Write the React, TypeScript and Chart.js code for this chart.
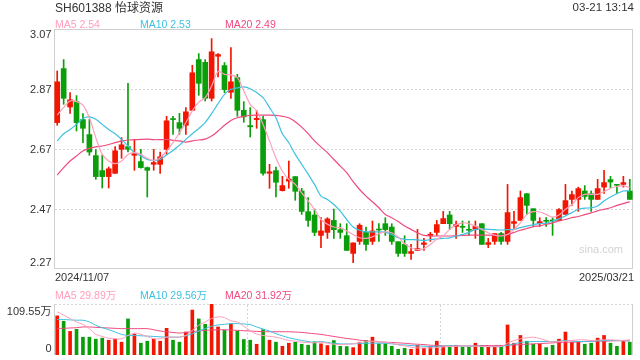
import React, { useEffect, useRef } from "react";
import { Chart, registerables } from "chart.js";

Chart.register(...registerables);

const title = "SH601388 怡球资源";
const timeStamp = "03-21 13:14";
const watermark = "sina.com";

const dates = [
  "2024/11/07","2024/11/08","2024/11/11","2024/11/12","2024/11/13","2024/11/14","2024/11/15","2024/11/18","2024/11/19","2024/11/20",
  "2024/11/21","2024/11/22","2024/11/25","2024/11/26","2024/11/27","2024/11/28","2024/11/29","2024/12/02","2024/12/03","2024/12/04",
  "2024/12/05","2024/12/06","2024/12/09","2024/12/10","2024/12/11","2024/12/12","2024/12/13","2024/12/16","2024/12/17","2024/12/18",
  "2024/12/19","2024/12/20","2024/12/23","2024/12/24","2024/12/25","2024/12/26","2024/12/27","2024/12/30","2024/12/31","2025/01/02",
  "2025/01/03","2025/01/06","2025/01/07","2025/01/08","2025/01/09","2025/01/10","2025/01/13","2025/01/14","2025/01/15","2025/01/16",
  "2025/01/17","2025/01/20","2025/01/21","2025/01/22","2025/01/23","2025/01/24","2025/01/27","2025/02/05","2025/02/06","2025/02/07",
  "2025/02/10","2025/02/11","2025/02/12","2025/02/13","2025/02/14","2025/02/17","2025/02/18","2025/02/19","2025/02/20","2025/02/21",
  "2025/02/24","2025/02/25","2025/02/26","2025/02/27","2025/02/28","2025/03/03","2025/03/04","2025/03/05","2025/03/06","2025/03/07",
  "2025/03/10","2025/03/11","2025/03/12","2025/03/13","2025/03/14","2025/03/17","2025/03/18","2025/03/19","2025/03/20","2025/03/21",
];

const openP = [
  2.758,2.938,2.810,2.828,2.768,2.718,2.648,2.598,2.578,2.589,
  2.669,2.678,2.649,2.628,2.608,2.619,2.619,2.669,2.771,2.758,
  2.749,2.799,2.968,2.959,2.839,2.979,2.948,2.859,2.908,2.799,
  2.748,2.768,2.768,2.589,2.598,2.531,2.563,2.578,2.530,2.461,
  2.450,2.382,2.392,2.432,2.401,2.381,2.322,2.362,2.392,2.362,
  2.402,2.421,2.410,2.361,2.352,2.322,2.332,2.352,2.382,2.392,
  2.421,2.450,2.412,2.411,2.401,2.402,2.421,2.352,2.362,2.388,
  2.362,2.422,2.432,2.521,2.471,2.422,2.432,2.432,2.432,2.452,
  2.502,2.502,2.530,2.521,2.502,2.543,2.568,2.552,2.552,2.530,
];
const highP = [
  2.930,2.968,2.858,2.848,2.788,2.769,2.668,2.649,2.610,2.678,
  2.708,2.889,2.699,2.669,2.610,2.669,2.660,2.779,2.779,2.789,
  2.808,2.949,2.988,2.968,3.038,2.988,2.958,3.008,2.919,2.828,
  2.808,2.799,2.779,2.619,2.610,2.579,2.630,2.578,2.539,2.508,
  2.470,2.441,2.441,2.470,2.421,2.421,2.357,2.421,2.410,2.430,
  2.421,2.441,2.421,2.361,2.381,2.352,2.402,2.372,2.392,2.432,
  2.462,2.462,2.430,2.430,2.430,2.430,2.421,2.372,2.388,2.392,
  2.552,2.462,2.530,2.521,2.471,2.441,2.441,2.441,2.471,2.552,
  2.530,2.543,2.548,2.530,2.569,2.599,2.579,2.552,2.579,2.569,
];
const lowP = [
  2.749,2.819,2.789,2.730,2.691,2.649,2.569,2.540,2.540,2.589,
  2.639,2.660,2.599,2.606,2.510,2.599,2.589,2.652,2.719,2.719,
  2.719,2.799,2.849,2.830,2.830,2.910,2.858,2.839,2.779,2.759,
  2.710,2.739,2.583,2.539,2.510,2.530,2.539,2.499,2.452,2.412,
  2.381,2.341,2.372,2.372,2.372,2.332,2.291,2.352,2.332,2.352,
  2.362,2.382,2.352,2.312,2.312,2.302,2.332,2.332,2.362,2.382,
  2.421,2.402,2.372,2.392,2.382,2.372,2.352,2.341,2.352,2.352,
  2.352,2.402,2.432,2.452,2.412,2.412,2.412,2.382,2.432,2.452,
  2.482,2.462,2.502,2.462,2.502,2.522,2.541,2.523,2.543,2.502,
];
const closeP = [
  2.894,2.839,2.834,2.758,2.739,2.660,2.578,2.578,2.604,2.664,
  2.684,2.669,2.655,2.608,2.599,2.625,2.644,2.764,2.768,2.739,
  2.794,2.924,2.889,2.839,2.994,2.985,2.868,2.894,2.799,2.777,
  2.744,2.772,2.589,2.594,2.559,2.548,2.570,2.529,2.462,2.432,
  2.392,2.397,2.437,2.401,2.392,2.332,2.357,2.416,2.352,2.397,
  2.400,2.401,2.362,2.322,2.322,2.328,2.338,2.357,2.386,2.418,
  2.438,2.421,2.418,2.409,2.399,2.412,2.352,2.358,2.388,2.362,
  2.458,2.428,2.508,2.482,2.432,2.428,2.429,2.430,2.468,2.498,
  2.518,2.538,2.512,2.502,2.538,2.558,2.560,2.549,2.558,2.502,
];

const ma5 = [
  2.783,2.808,2.830,2.828,2.816,2.774,2.708,2.652,2.630,2.621,
  2.630,2.652,2.658,2.652,2.639,2.632,2.641,2.663,2.691,2.724,
  2.758,2.797,2.826,2.841,2.880,2.928,2.919,2.917,2.908,2.863,
  2.819,2.797,2.752,2.697,2.640,2.596,2.569,2.552,2.524,2.497,
  2.469,2.435,2.419,2.410,2.408,2.397,2.385,2.374,2.372,2.377,
  2.388,2.394,2.391,2.377,2.354,2.341,2.335,2.338,2.352,2.369,
  2.380,2.402,2.417,2.424,2.421,2.413,2.402,2.391,2.383,2.380,
  2.385,2.402,2.424,2.452,2.461,2.460,2.452,2.443,2.450,2.469,
  2.485,2.508,2.519,2.519,2.519,2.528,2.539,2.545,2.548,2.541,
];
const ma10 = [
  2.697,2.721,2.735,2.752,2.772,2.777,2.769,2.752,2.735,2.721,
  2.702,2.680,2.658,2.647,2.635,2.632,2.635,2.650,2.665,2.683,
  2.702,2.721,2.738,2.758,2.788,2.821,2.852,2.869,2.874,2.877,
  2.871,2.858,2.841,2.808,2.774,2.721,2.691,2.652,2.619,2.586,
  2.552,2.513,2.502,2.485,2.463,2.435,2.410,2.399,2.394,2.394,
  2.394,2.393,2.385,2.374,2.369,2.368,2.367,2.365,2.368,2.370,
  2.372,2.374,2.380,2.385,2.392,2.402,2.404,2.402,2.401,2.400,
  2.401,2.402,2.408,2.413,2.418,2.421,2.423,2.430,2.437,2.447,
  2.458,2.469,2.473,2.474,2.480,2.497,2.510,2.521,2.530,2.530,
];
const ma20 = [
  2.583,2.608,2.630,2.647,2.663,2.672,2.677,2.680,2.685,2.691,
  2.697,2.700,2.701,2.702,2.703,2.701,2.701,2.702,2.699,2.697,
  2.693,2.697,2.700,2.703,2.713,2.730,2.749,2.765,2.774,2.779,
  2.782,2.783,2.783,2.783,2.782,2.779,2.774,2.761,2.743,2.721,
  2.697,2.677,2.658,2.635,2.613,2.591,2.561,2.535,2.513,2.494,
  2.474,2.452,2.441,2.428,2.413,2.402,2.391,2.382,2.380,2.380,
  2.380,2.380,2.381,2.382,2.383,2.383,2.383,2.383,2.382,2.381,
  2.385,2.392,2.399,2.405,2.411,2.414,2.419,2.424,2.430,2.435,
  2.441,2.445,2.451,2.457,2.464,2.469,2.474,2.482,2.488,2.494,
];

// volume in 万 shares
const volume = [
  84.1,72.5,50.7,55.1,38.3,38.3,34.0,36.2,31.8,34.0,
  27.5,77.5,44.9,25.3,29.6,34.0,29.6,57.3,31.8,27.5,
  49.3,96.5,77.5,66.0,109.55,60.2,52.9,66.7,51.4,33.3,
  31.8,23.1,54.4,31.8,27.5,18.7,25.3,27.5,23.1,20.9,
  28.3,24.0,20.3,31.1,18.7,18.1,15.9,27.5,31.1,38.3,
  24.0,24.0,18.7,12.2,14.4,12.2,20.9,14.4,18.1,29.6,
  18.7,16.6,20.3,16.6,16.6,25.3,20.3,16.6,16.6,18.1,
  64.5,25.3,42.0,29.6,23.1,23.1,15.9,20.9,34.0,49.3,
  27.5,27.5,23.1,25.3,36.2,42.0,25.3,18.7,31.1,27.5,
];
const volMa5 = [
  92.9,85.6,78.3,71.0,65.9,56.6,44.3,39.9,36.2,34.8,
  34.8,42.0,47.1,44.3,39.9,34.8,34.8,38.4,38.4,38.4,
  42.0,52.9,63.8,71.0,78.3,82.0,80.5,73.2,71.0,62.0,
  52.0,45.0,42.0,39.9,38.4,34.8,31.1,29.7,27.5,26.8,
  26.1,27.5,25.3,23.1,22.4,23.1,23.9,26.8,28.2,29.7,
  29.0,27.5,25.3,21.7,19.6,16.7,15.2,15.2,15.2,15.9,
  17.4,18.1,18.9,19.6,19.6,18.9,18.1,18.1,18.1,18.1,
  25.3,31.1,34.8,37.0,38.4,35.5,31.1,28.2,29.0,29.7,
  31.1,32.6,32.6,31.1,31.9,32.6,32.6,31.9,31.1,29.89,
];
const volMa10 = [
  76.2,76.2,75.4,74.7,74.7,71.0,63.8,58.7,54.3,49.3,
  44.3,42.0,42.0,41.3,40.6,39.9,39.1,38.4,38.4,38.4,
  41.3,45.7,51.5,56.6,61.7,64.6,65.9,67.4,67.4,66.7,
  65.2,60.2,55.8,51.5,45.7,41.3,37.0,34.0,31.1,29.0,
  27.5,29.0,26.8,25.3,23.9,23.9,23.9,24.6,25.3,25.3,
  25.3,25.3,23.9,22.4,21.7,20.3,19.6,18.9,18.1,18.9,
  18.9,19.6,19.6,19.6,19.6,18.9,18.9,18.1,18.1,18.1,
  21.0,23.9,26.8,28.2,29.0,29.0,29.0,29.0,29.7,31.1,
  30.4,29.0,29.0,29.7,30.4,31.1,31.1,31.1,30.4,29.56,
];
const volMa20 = [
  56.6,57.3,58.0,58.7,60.2,60.2,59.4,58.7,58.0,57.3,
  56.6,56.6,56.6,56.6,56.6,54.3,51.5,50.0,48.5,47.1,
  48.5,50.0,51.5,52.9,53.6,54.3,54.3,53.6,52.9,52.2,
  51.5,50.7,50.0,50.0,50.0,50.0,50.0,49.3,48.5,47.1,
  45.7,44.3,42.0,39.9,37.7,35.5,34.0,31.9,30.4,29.0,
  28.2,27.5,26.8,26.1,25.3,23.9,23.1,22.4,21.0,20.3,
  19.6,19.6,19.6,19.6,19.6,19.6,20.3,20.3,20.3,20.3,
  21.0,21.7,22.4,23.1,23.9,24.6,25.3,26.1,26.8,27.5,
  27.5,28.2,29.0,29.7,29.7,29.7,30.2,30.6,31.3,31.92,
];

const priceTicks = [2.27, 2.47, 2.67, 2.87, 3.07];
const priceTickLabels = ["2.27", "2.47", "2.67", "2.87", "3.07"];
const volTicks = [0, 109.55];
const volTickLabels = ["0", "109.55万"];
const maNames = ["MA5", "MA10", "MA20"];

const UP = "#f21500";
const DOWN = "#0a9e0a";
const MA_COLORS = ["#ff9fba", "#3ec1e0", "#ef4a7e"];
const FONT = '"Liberation Sans", Arial, "Noto Sans CJK SC", sans-serif';

const candleColors = closeP.map((c, i) => (c >= openP[i] ? UP : DOWN));

function txt(
  ctx: CanvasRenderingContext2D,
  s: string,
  x: number,
  capMid: number,
  size: number,
  color: string,
  align: CanvasTextAlign = "left"
) {
  ctx.save();
  ctx.font = `${size}px ${FONT}`;
  ctx.fillStyle = color;
  ctx.textAlign = align;
  ctx.textBaseline = "alphabetic";
  ctx.fillText(s, x, capMid + size * 0.358);
  ctx.restore();
}

function dotted(ctx: CanvasRenderingContext2D, x1: number, y1: number, x2: number, y2: number) {
  ctx.save();
  ctx.strokeStyle = "#d6d6d6";
  ctx.lineWidth = 1;
  ctx.setLineDash([2, 2]);
  ctx.beginPath();
  ctx.moveTo(x1, y1);
  ctx.lineTo(x2, y2);
  ctx.stroke();
  ctx.restore();
}

const priceFrame = {
  id: "priceFrame",
  beforeDatasetsDraw(chart: any) {
    const { ctx, chartArea: a, scales } = chart;
    const y = scales.y;
    priceTicks.forEach((t, i) => {
      if (i === 0 || i === priceTicks.length - 1) return;
      const py = Math.round(y.getPixelForValue(t)) + 0.5;
      dotted(ctx, a.left + 1, py, a.right - 1, py);
    });
    ctx.save();
    ctx.strokeStyle = "#cfcfcf";
    ctx.lineWidth = 1;
    ctx.strokeRect(Math.round(a.left) + 0.5, Math.round(a.top) + 0.5, Math.round(a.right - a.left) - 1, Math.round(a.bottom - a.top) - 1);
    ctx.restore();
    txt(ctx, watermark, 623, 249.5, 11, "#d3d3d3", "right");
  },
  afterDraw(chart: any) {
    const { ctx, chartArea: a, scales } = chart;
    const y = scales.y;
    priceTicks.forEach((t, i) => {
      let py = y.getPixelForValue(t);
      if (i === priceTicks.length - 1) py += 5.3;
      else if (i === 0) py -= 6.8;
      txt(ctx, priceTickLabels[i], 51.5, py, 11, "#333", "right");
    });
    txt(ctx, dates[0], a.left + 1, a.bottom + 8.5, 11, "#333", "left");
    txt(ctx, dates[dates.length - 1], a.right + 1, a.bottom + 8.5, 11, "#333", "right");
    txt(ctx, title, 55, 7.8, 12, "#333", "left");
    txt(ctx, timeStamp, 634, 6.8, 11.5, "#333", "right");
    const vals = [ma5, ma10, ma20];
    const xs = [55, 140, 225];
    maNames.forEach((n, i) => {
      const v = vals[i][vals[i].length - 1].toFixed(2);
      txt(ctx, `${n} ${v}`, xs[i], 24, 10.5, MA_COLORS[i], "left");
    });
  },
};

const volFrame = {
  id: "volFrame",
  beforeDatasetsDraw(chart: any) {
    const { ctx, chartArea: a } = chart;
    const top = Math.round(a.top) + 0.5;
    dotted(ctx, a.left + 1, top, a.right, top);
    const w = a.right - a.left;
    [1, 2].forEach((k) => {
      const x = Math.round(a.left + (w * k) / 3) + 0.5;
      dotted(ctx, x, a.top + 1, x, a.bottom);
    });
    ctx.save();
    ctx.strokeStyle = "#cfcfcf";
    ctx.lineWidth = 1;
    ctx.beginPath();
    ctx.moveTo(Math.round(a.left) + 0.5, a.top);
    ctx.lineTo(Math.round(a.left) + 0.5, a.bottom);
    ctx.moveTo(Math.round(a.right) - 0.5, a.top);
    ctx.lineTo(Math.round(a.right) - 0.5, a.bottom);
    ctx.stroke();
    ctx.restore();
  },
  afterDraw(chart: any) {
    const { ctx, scales } = chart;
    const y = scales.y;
    volTicks.forEach((t, i) => {
      let py = y.getPixelForValue(t);
      if (i === 0) py -= 6.7;
      else py += 7;
      txt(ctx, volTickLabels[i], 51.5, py, 11, "#333", "right");
    });
    const vals = [volMa5, volMa10, volMa20];
    const xs = [55, 140, 225];
    maNames.forEach((n, i) => {
      const v = vals[i][vals[i].length - 1].toFixed(2);
      txt(ctx, `${n} ${v}万`, xs[i], 295, 10.5, MA_COLORS[i], "left");
    });
  },
};

function lineDs(label: string, data: number[], color: string, width: number) {
  return {
    type: "line" as const,
    label,
    data,
    borderColor: color,
    borderWidth: width,
    pointRadius: 0,
    tension: 0.3,
    fill: false,
    order: 0,
  };
}

export default function App() {
  const priceRef = useRef<HTMLCanvasElement>(null);
  const volRef = useRef<HTMLCanvasElement>(null);

  useEffect(() => {
    const priceChart = new Chart(priceRef.current as HTMLCanvasElement, {
      type: "bar",
      data: {
        labels: dates,
        datasets: [
          lineDs("MA5", ma5, MA_COLORS[0], 1.2),
          lineDs("MA10", ma10, MA_COLORS[1], 1.2),
          lineDs("MA20", ma20, MA_COLORS[2], 1.2),
          {
            type: "bar",
            label: "wick",
            data: lowP.map((l, i) => [l, highP[i]]) as any,
            backgroundColor: candleColors,
            barThickness: 1,
            grouped: false,
            order: 2,
          },
          {
            type: "bar",
            label: "body",
            data: openP.map((o, i) => [o, closeP[i]]) as any,
            backgroundColor: candleColors,
            barThickness: 5,
            minBarLength: 1,
            grouped: false,
            order: 1,
          },
        ] as any,
      },
      options: {
        animation: false,
        responsive: false,
        maintainAspectRatio: false,
        events: [],
        layout: { padding: { left: 54, right: 7, top: 29, bottom: 91 } },
        plugins: { legend: { display: false }, tooltip: { enabled: false } },
        scales: {
          x: { display: false, offset: true },
          y: { display: false, min: priceTicks[0], max: priceTicks[priceTicks.length - 1] },
        },
      },
      plugins: [priceFrame],
    });

    const volChart = new Chart(volRef.current as HTMLCanvasElement, {
      type: "bar",
      data: {
        labels: dates,
        datasets: [
          lineDs("VMA5", volMa5, MA_COLORS[0], 1),
          lineDs("VMA10", volMa10, MA_COLORS[1], 1),
          lineDs("VMA20", volMa20, MA_COLORS[2], 1),
          {
            type: "bar",
            label: "volume",
            data: volume,
            backgroundColor: candleColors,
            barThickness: 3,
            grouped: false,
            order: 1,
          },
        ] as any,
      },
      options: {
        animation: false,
        responsive: false,
        maintainAspectRatio: false,
        events: [],
        layout: { padding: { left: 54, right: 7, top: 304, bottom: 5 } },
        plugins: { legend: { display: false }, tooltip: { enabled: false } },
        scales: {
          x: { display: false, offset: true },
          y: { display: false, min: volTicks[0], max: volTicks[1] },
        },
      },
      plugins: [volFrame],
    });

    return () => {
      priceChart.destroy();
      volChart.destroy();
    };
  }, []);

  return (
    <div style={{ position: "absolute", left: 0, top: 0, width: 640, height: 360, background: "#fff" }}>
      <canvas ref={priceRef} width={640} height={360} style={{ position: "absolute", left: 0, top: 0 }} />
      <canvas ref={volRef} width={640} height={360} style={{ position: "absolute", left: 0, top: 0 }} />
    </div>
  );
}
